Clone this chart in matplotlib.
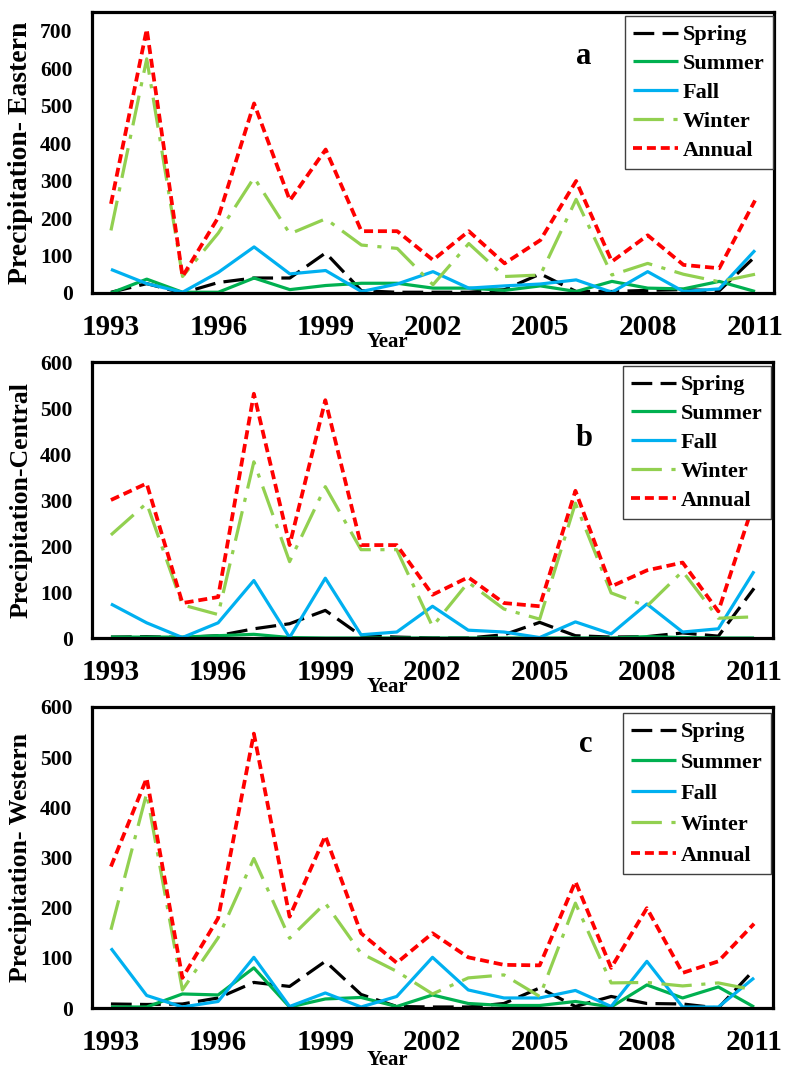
import matplotlib
matplotlib.use("Agg")
import matplotlib.pyplot as plt

years = list(range(1993, 2012))
xtick_years = list(range(1993, 2012, 3))
series_names = ["Spring", "Summer", "Fall", "Winter", "Annual"]

east_spring = [2, 25, 0, 28, 40, 40, 107, 6, 2, 2, 2, 9, 51, 4, 4, 7, 9, 6, 97]
east_summer = [0, 37, 2, 2, 40, 9, 20, 26, 26, 13, 13, 7, 19, 4, 31, 13, 11, 31, 4]
east_fall = [63, 25, 2, 55, 123, 51, 60, 4, 24, 57, 13, 19, 24, 35, 2, 57, 4, 11, 114]
east_winter = [167, 625, 44, 160, 308, 158, 198, 128, 119, 22, 132, 44, 48, 250, 48, 79, 50, 30, 50]
east_annual = [238, 704, 44, 202, 506, 247, 383, 165, 165, 88, 165, 79, 141, 299, 84, 154, 75, 66, 247]

central_spring = [2, 3, 1, 5, 20, 31, 60, 5, 2, 0, 0, 7, 34, 5, 2, 3, 11, 4, 108]
central_summer = [2, 2, 2, 5, 8, 1, 0, 0, 0, 0, 0, 0, 0, 0, 0, 3, 1, 0, 0]
central_fall = [74, 33, 1, 33, 125, 1, 130, 7, 13, 69, 17, 13, 1, 35, 9, 74, 13, 20, 145]
central_winter = [224, 293, 72, 51, 383, 166, 329, 192, 192, 25, 121, 63, 41, 293, 98, 69, 145, 43, 46]
central_annual = [300, 336, 76, 89, 531, 202, 517, 202, 202, 94, 132, 76, 69, 320, 112, 147, 164, 58, 296]

west_spring = [8, 7, 8, 20, 51, 43, 93, 27, 3, 2, 2, 9, 40, 3, 23, 9, 8, 0, 76]
west_summer = [2, 2, 28, 26, 80, 2, 18, 21, 3, 26, 9, 5, 5, 13, 2, 46, 20, 42, 2]
west_fall = [119, 25, 2, 13, 101, 3, 30, 2, 23, 101, 36, 20, 20, 35, 3, 93, 2, 2, 60]
west_winter = [156, 428, 36, 140, 298, 139, 209, 109, 73, 28, 60, 66, 23, 209, 50, 51, 44, 50, 36]
west_annual = [282, 458, 60, 179, 547, 182, 343, 149, 90, 149, 101, 86, 85, 252, 80, 199, 70, 93, 168]

panel_letters = ["a", "b", "c"]
ylabels = ["Precipitation- Eastern", "Precipitation-Central", "Precipitation- Western"]

plt.rcParams['font.family'] = ['Liberation Serif', 'DejaVu Serif']
plt.rcParams['font.weight'] = 'bold'

W, H = 785, 1070
fig = plt.figure(figsize=(W / 100, H / 100), dpi=100)

def px_axes(left, top, right, bottom):
    return fig.add_axes([left / W, 1 - bottom / H, (right - left) / W, (bottom - top) / H])

styles = [
    dict(color="black", lw=2.3, dashes=(6.5, 2.6)),
    dict(color="#00B050", lw=2.3, linestyle="-"),
    dict(color="#00B0F0", lw=2.3, linestyle="-"),
    dict(color="#92D050", lw=2.3, dashes=(9.5, 3.0, 1.3, 3.0)),
    dict(color="#FF0000", lw=2.7, dashes=(2.4, 1.3)),
]

panels = [
    dict(data=[east_spring, east_summer, east_fall, east_winter, east_annual],
         box=(92, 12, 774, 293), ymax=750, yticks=range(0, 701, 100),
         legend=(773, 16), lspace=0.37, letter=(584, 57), ylab_size=20, year_y=342),
    dict(data=[central_spring, central_summer, central_fall, central_winter, central_annual],
         box=(92, 362, 773, 638), ymax=600, yticks=range(0, 601, 100),
         legend=(771, 366), lspace=0.37, letter=(584, 439), ylab_size=18.5, year_y=687),
    dict(data=[west_spring, west_summer, west_fall, west_winter, west_annual],
         box=(92, 707, 773, 1008), ymax=600, yticks=range(0, 601, 100),
         legend=(771, 713), lspace=0.46, letter=(586, 745), ylab_size=18.5, year_y=1060),
]

for i, p in enumerate(panels):
    ax = px_axes(*p["box"])
    handles = []
    for name, vals, st in zip(series_names, p["data"], styles):
        h, = ax.plot(years, vals, label=name, solid_capstyle="butt", dash_capstyle="butt", **st)
        handles.append(h)
    ax.set_xlim(1992.47, 2011.53)
    ax.set_ylim(0, p["ymax"])
    ax.set_xticks(xtick_years)
    ax.set_xticklabels([str(y) for y in xtick_years], fontsize=21, fontweight="bold")
    ax.set_yticks(list(p["yticks"]))
    ax.set_yticklabels([str(v) for v in p["yticks"]], fontsize=15.5, fontweight="bold")
    ax.tick_params(axis="x", length=0, pad=15)
    ax.tick_params(axis="y", length=0, pad=14)
    for s in ax.spines.values():
        s.set_linewidth(2.3)
        s.set_color("black")
    lx, ly = p["legend"]
    leg = ax.legend(handles=handles, loc="upper right",
                    bbox_to_anchor=(lx / W, 1 - ly / H), bbox_transform=fig.transFigure,
                    fancybox=False, framealpha=1, edgecolor="#404040",
                    prop=dict(family="Liberation Serif", weight="bold", size=16),
                    handlelength=2.0, handletextpad=0.2, labelspacing=p["lspace"],
                    borderpad=0.4, borderaxespad=0)
    leg.get_frame().set_linewidth(1.0)
    tx, ty = p["letter"]
    fig.text(tx / W, 1 - ty / H, panel_letters[i], fontsize=22, fontweight="bold",
             ha="center", va="center")
    l, t, r, b = p["box"]
    fig.text(21 / W, 1 - ((t + b) / 2) / H, ylabels[i], rotation=90, fontsize=p["ylab_size"],
             fontweight="bold", ha="center", va="center")
    fig.text(387 / W, 1 - p["year_y"] / H, "Year", fontsize=15, fontweight="bold",
             ha="center", va="center")

fig.savefig("out.png", dpi=100)
